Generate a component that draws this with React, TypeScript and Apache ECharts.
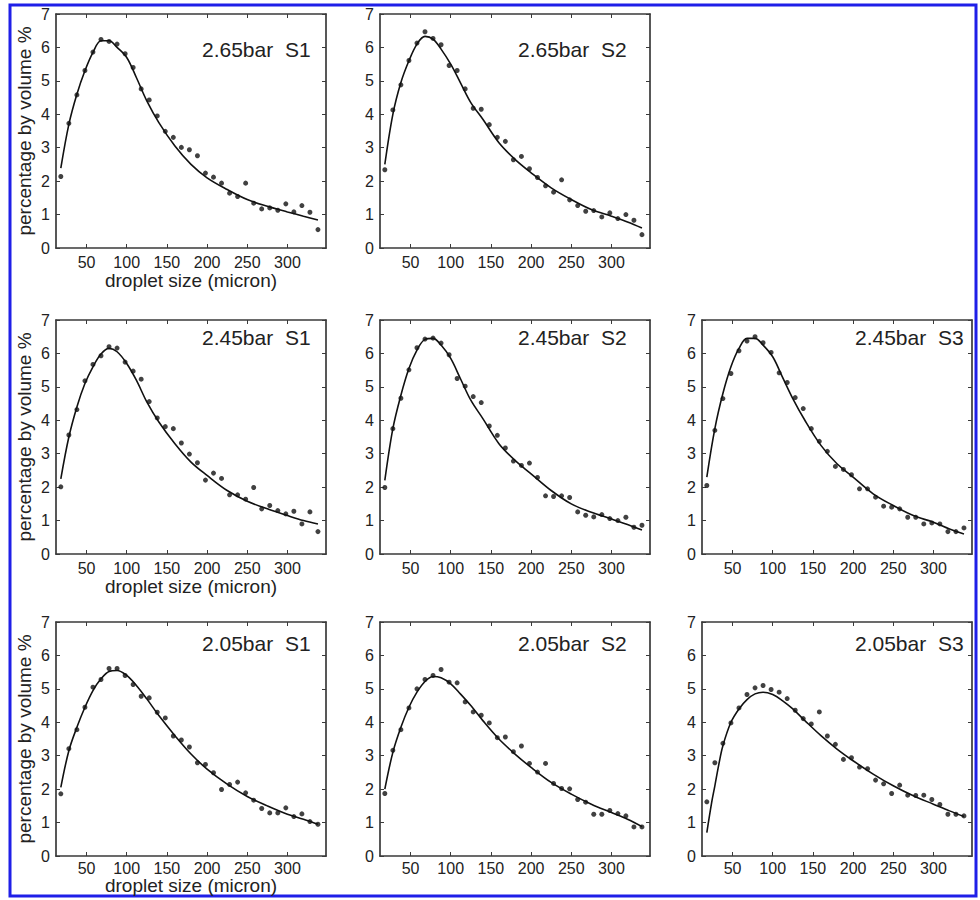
import React, { useEffect, useRef } from "react";
import * as echarts from "echarts";

// ---------- data ----------
const DROPLET_SIZES = [18, 28, 38, 48, 58, 68, 78, 88, 98, 108, 118, 128, 138, 148, 158, 168, 178, 188, 198, 208, 218, 228, 238, 248, 258, 268, 278, 288, 298, 308, 318, 328, 338];
const FIT_SIZES = [18, 28, 38, 48, 58, 68, 78, 88, 100, 112, 125, 140, 160, 180, 200, 225, 250, 275, 300, 320, 338];
const FIT_SIZES_205_S3 = [18, 24, 28, 33, 38, 48, 58, 68, 78, 88, 100, 112, 125, 140, 160, 180, 200, 225, 250, 275, 300, 320, 338];
const X_TICKS = [50, 100, 150, 200, 250, 300];
const Y_TICKS = [0, 1, 2, 3, 4, 5, 6, 7];

const PTS_265_S1 = [2.14, 3.73, 4.58, 5.31, 5.86, 6.24, 6.18, 6.1, 5.81, 5.4, 4.76, 4.43, 3.95, 3.49, 3.31, 3.01, 2.94, 2.76, 2.24, 2.12, 1.94, 1.64, 1.54, 1.94, 1.34, 1.17, 1.2, 1.13, 1.32, 1.08, 1.27, 1.07, 0.55];
const FIT_265_S1 = [2.39, 3.7, 4.6, 5.3, 5.85, 6.2, 6.2, 6.0, 5.7, 5.1, 4.4, 3.75, 3.05, 2.5, 2.1, 1.75, 1.45, 1.25, 1.08, 0.95, 0.84];

const PTS_265_S2 = [2.34, 4.13, 4.88, 5.61, 6.13, 6.47, 6.27, 6.08, 5.46, 5.31, 4.76, 4.18, 4.15, 3.69, 3.31, 3.19, 2.64, 2.74, 2.37, 2.11, 1.86, 1.67, 2.04, 1.44, 1.27, 1.1, 1.12, 0.93, 1.05, 0.88, 1.0, 0.83, 0.4];
const FIT_265_S2 = [2.5, 4.0, 4.95, 5.6, 6.1, 6.33, 6.25, 5.95, 5.5, 4.95, 4.35, 3.85, 3.15, 2.65, 2.25, 1.8, 1.45, 1.15, 0.95, 0.78, 0.6];

const PTS_245_S1 = [2.01, 3.56, 4.32, 5.18, 5.67, 5.93, 6.2, 6.16, 5.74, 5.47, 5.23, 4.56, 4.07, 3.81, 3.75, 3.32, 2.99, 2.73, 2.21, 2.42, 2.26, 1.77, 1.77, 1.64, 1.99, 1.35, 1.45, 1.3, 1.2, 1.28, 0.9, 1.26, 0.67];
const FIT_245_S1 = [2.25, 3.5, 4.4, 5.1, 5.6, 5.98, 6.15, 6.05, 5.7, 5.2, 4.55, 3.95, 3.3, 2.75, 2.35, 1.9, 1.58, 1.35, 1.15, 1.0, 0.9];

const PTS_245_S2 = [1.99, 3.75, 4.66, 5.51, 6.17, 6.43, 6.46, 6.31, 5.96, 5.25, 5.02, 4.71, 4.53, 3.83, 3.55, 3.17, 2.78, 2.65, 2.72, 2.29, 1.74, 1.72, 1.74, 1.69, 1.26, 1.16, 1.11, 1.18, 1.06, 1.0, 1.1, 0.8, 0.86];
const FIT_245_S2 = [2.2, 3.75, 4.75, 5.55, 6.1, 6.42, 6.45, 6.25, 5.85, 5.25, 4.6, 4.05, 3.3, 2.8, 2.4, 1.9, 1.5, 1.25, 1.05, 0.88, 0.72];

const PTS_245_S3 = [2.05, 3.7, 4.65, 5.4, 6.08, 6.37, 6.5, 6.32, 6.03, 5.42, 5.13, 4.68, 4.35, 3.75, 3.37, 3.07, 2.62, 2.53, 2.37, 1.95, 1.95, 1.7, 1.43, 1.4, 1.35, 1.1, 1.1, 0.9, 0.93, 0.9, 0.67, 0.67, 0.78];
const FIT_245_S3 = [2.3, 3.75, 4.8, 5.6, 6.15, 6.45, 6.45, 6.25, 5.9, 5.3, 4.65, 4.0, 3.25, 2.7, 2.3, 1.8, 1.45, 1.15, 0.95, 0.75, 0.6];

const PTS_205_S1 = [1.86, 3.21, 3.78, 4.45, 5.05, 5.28, 5.61, 5.61, 5.4, 5.13, 4.78, 4.73, 4.3, 4.13, 3.59, 3.47, 3.26, 2.79, 2.74, 2.49, 1.99, 2.14, 2.21, 1.89, 1.67, 1.42, 1.29, 1.29, 1.44, 1.18, 1.26, 1.03, 0.95];
const FIT_205_S1 = [2.05, 3.15, 3.85, 4.45, 4.95, 5.3, 5.52, 5.55, 5.4, 5.1, 4.7, 4.2, 3.6, 3.05, 2.6, 2.15, 1.78, 1.5, 1.25, 1.1, 0.95];

const PTS_205_S2 = [1.87, 3.16, 3.78, 4.43, 5.0, 5.28, 5.4, 5.58, 5.2, 5.18, 4.61, 4.31, 4.21, 3.98, 3.54, 3.56, 3.12, 3.29, 2.77, 2.51, 2.77, 2.17, 2.02, 2.01, 1.69, 1.61, 1.25, 1.25, 1.36, 1.27, 1.2, 0.87, 0.87];
const FIT_205_S2 = [2.0, 3.1, 3.85, 4.45, 4.9, 5.22, 5.37, 5.33, 5.15, 4.85, 4.5, 4.05, 3.5, 3.05, 2.65, 2.2, 1.85, 1.55, 1.3, 1.1, 0.88];

const PTS_205_S3 = [1.62, 2.79, 3.37, 3.98, 4.43, 4.83, 5.03, 5.1, 4.98, 4.9, 4.71, 4.36, 4.11, 3.95, 4.31, 3.59, 3.34, 2.89, 2.94, 2.66, 2.61, 2.27, 2.16, 1.87, 2.12, 1.82, 1.81, 1.82, 1.69, 1.54, 1.25, 1.25, 1.2];
const FIT_205_S3 = [0.7, 1.6, 2.1, 2.75, 3.3, 4.0, 4.4, 4.68, 4.85, 4.9, 4.83, 4.65, 4.4, 4.05, 3.6, 3.2, 2.85, 2.45, 2.1, 1.8, 1.55, 1.35, 1.18];

const X_NAME = "droplet size (micron)";
const Y_NAME = "percentage by volume %";

const PANELS = [
  { title: "2.65bar  S1", row: 0, col: 0, pts: PTS_265_S1, fitX: FIT_SIZES, fit: FIT_265_S1 },
  { title: "2.65bar  S2", row: 0, col: 1, pts: PTS_265_S2, fitX: FIT_SIZES, fit: FIT_265_S2 },
  { title: "2.45bar  S1", row: 1, col: 0, pts: PTS_245_S1, fitX: FIT_SIZES, fit: FIT_245_S1 },
  { title: "2.45bar  S2", row: 1, col: 1, pts: PTS_245_S2, fitX: FIT_SIZES, fit: FIT_245_S2 },
  { title: "2.45bar  S3", row: 1, col: 2, pts: PTS_245_S3, fitX: FIT_SIZES, fit: FIT_245_S3 },
  { title: "2.05bar  S1", row: 2, col: 0, pts: PTS_205_S1, fitX: FIT_SIZES, fit: FIT_205_S1 },
  { title: "2.05bar  S2", row: 2, col: 1, pts: PTS_205_S2, fitX: FIT_SIZES, fit: FIT_205_S2 },
  { title: "2.05bar  S3", row: 2, col: 2, pts: PTS_205_S3, fitX: FIT_SIZES_205_S3, fit: FIT_205_S3 },
];

// ---------- layout ----------
const COL_LEFT = [56, 380, 702];
const ROW_TOP = [14, 320, 622];
const BOX_W = 270;
const BOX_H = 234;
const TITLE_X = [202, 518, 855];
const TITLE_Y = [49, 337, 643];
const X_NAME_GAP = [23, 23, 20];
const X_LABEL_MARGIN = [6, 6, 4];
const FONT = "'Liberation Sans', Arial, Helvetica, sans-serif";
const AXIS_COLOR = "#3a3a3a";
const TEXT_COLOR = "#222";

export default function App() {
  const ref = useRef<HTMLDivElement>(null);

  useEffect(() => {
    document.body.style.margin = "0";
    if (!ref.current) return;
    const chart = echarts.init(ref.current, undefined, { renderer: "svg" });

    const grids: any[] = [];
    const xAxes: any[] = [];
    const yAxes: any[] = [];
    const series: any[] = [];
    const graphics: any[] = [];

    PANELS.forEach((p, i) => {
      grids.push({
        left: COL_LEFT[p.col],
        top: ROW_TOP[p.row],
        width: BOX_W,
        height: BOX_H,
        show: false,
        containLabel: false,
      });
      const lineStyle = { color: AXIS_COLOR, width: 1.7 };
      xAxes.push({
        type: "value",
        gridIndex: i,
        position: "bottom",
        min: 12,
        max: 348,
        axisLine: { show: true, onZero: false, lineStyle },
        axisTick: { show: true, inside: true, length: 4, customValues: X_TICKS, lineStyle: { color: AXIS_COLOR, width: 1 } },
        axisLabel: { show: true, customValues: X_TICKS, margin: X_LABEL_MARGIN[p.row], fontSize: 16, color: TEXT_COLOR, fontFamily: FONT },
        splitLine: { show: false },
        name: p.col === 0 ? X_NAME : "",
        nameLocation: "middle",
        nameGap: X_NAME_GAP[p.row],
        nameMoveOverlap: false,
        nameTextStyle: { fontSize: 19, color: TEXT_COLOR, fontFamily: FONT },
      });
      xAxes.push({
        type: "value",
        gridIndex: i,
        position: "top",
        min: 12,
        max: 348,
        axisLine: { show: true, onZero: false, lineStyle },
        axisTick: { show: true, inside: true, length: 4, customValues: X_TICKS, lineStyle: { color: AXIS_COLOR, width: 1 } },
        axisLabel: { show: false },
        splitLine: { show: false },
      });
      yAxes.push({
        type: "value",
        gridIndex: i,
        position: "left",
        min: 0,
        max: 7,
        interval: 1,
        axisLine: { show: true, onZero: false, lineStyle },
        axisTick: { show: true, inside: true, length: 4, lineStyle: { color: AXIS_COLOR, width: 1 } },
        axisLabel: { show: true, margin: 6, fontSize: 16, color: TEXT_COLOR, fontFamily: FONT },
        splitLine: { show: false },
        name: p.col === 0 ? Y_NAME : "",
        nameLocation: "middle",
        nameGap: 22,
        nameRotate: 90,
        nameTextStyle: { fontSize: 19, color: TEXT_COLOR, fontFamily: FONT },
      });
      yAxes.push({
        type: "value",
        gridIndex: i,
        position: "right",
        min: 0,
        max: 7,
        interval: 1,
        axisLine: { show: true, onZero: false, lineStyle },
        axisTick: { show: true, inside: true, length: 4, lineStyle: { color: AXIS_COLOR, width: 1 } },
        axisLabel: { show: false },
        splitLine: { show: false },
      });
      series.push({
        type: "line",
        xAxisIndex: 2 * i,
        yAxisIndex: 2 * i,
        data: p.fitX.map((x, k) => [x, p.fit[k]]),
        smooth: 0.35,
        showSymbol: false,
        symbol: "none",
        lineStyle: { color: "#111", width: 1.6 },
        silent: true,
        z: 2,
      });
      series.push({
        type: "scatter",
        xAxisIndex: 2 * i,
        yAxisIndex: 2 * i,
        data: DROPLET_SIZES.map((x, k) => [x, p.pts[k]]),
        symbol: "circle",
        symbolSize: 5,
        itemStyle: { color: "#111" },
        silent: true,
        z: 3,
      });
      graphics.push({
        type: "text",
        x: TITLE_X[p.col],
        y: TITLE_Y[p.row],
        style: {
          text: p.title,
          fontSize: 21,
          fontFamily: FONT,
          fill: TEXT_COLOR,
          verticalAlign: "middle",
          align: "left",
        },
      });
    });

    graphics.push({
      type: "rect",
      shape: { x: 10, y: 5, width: 966, height: 891 },
      style: { fill: "none", stroke: "#1f1fe8", lineWidth: 3 },
      silent: true,
    });

    chart.setOption({
      animation: false,
      backgroundColor: "#ffffff",
      textStyle: { fontFamily: FONT },
      grid: grids,
      xAxis: xAxes,
      yAxis: yAxes,
      series,
      graphic: graphics,
    });

    return () => chart.dispose();
  }, []);

  return <div ref={ref} style={{ width: 980, height: 900 }} />;
}
